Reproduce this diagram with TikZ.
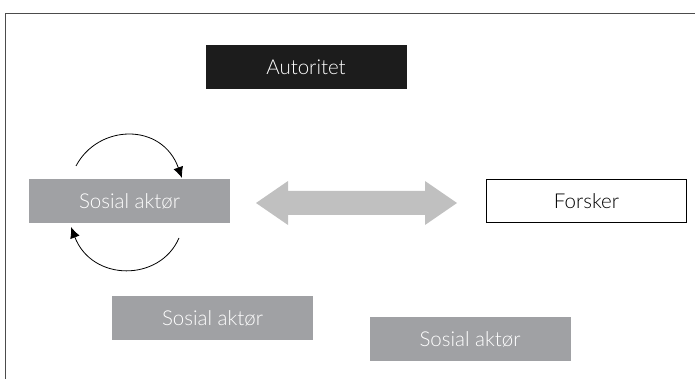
\documentclass[tikz,border=0pt]{standalone}
\usepackage{fontspec}
\setmainfont{Lato Light}
\usetikzlibrary{arrows.meta}
\definecolor{boxgray}{HTML}{A0A1A4}
\definecolor{arrgray}{HTML}{C0C0C0}
\definecolor{darkbox}{HTML}{1C1C1C}
\begin{document}
\begin{tikzpicture}[x=1pt,y=-1pt,
  every node/.style={inner sep=0pt, outer sep=0pt, font=\fontsize{20.5}{24}\selectfont},
  actor/.style={fill=boxgray, text=white, minimum width=201pt, minimum height=44pt},
  authority/.style={fill=darkbox, text=white, minimum width=201pt, minimum height=44pt},
  researcher/.style={draw=black, line width=0.8pt, fill=white, minimum width=200pt, minimum height=43pt},
  loop/.style={line width=0.8pt, -{Latex[length=11pt,width=10pt]}}
]
\useasboundingbox (0,0) rectangle (695,379);
\draw[line width=0.8pt, draw=black!70] (5,379) -- (5,13) -- (695,13);
\node[authority] (aut) at (306,67) {Autoritet};
\node[actor] (a1) at (129.5,201) {Sosial aktør};
\node[researcher] (fo) at (586.5,201) {Forsker};
\node[actor] (a2) at (212.5,318) {Sosial aktør};
\node[actor] (a3) at (470,339) {Sosial aktør};
% double arrow between a1 and fo
\fill[arrgray] (256,203) -- (288,181) -- (288,191) -- (425,191) -- (425,181) -- (457,203)
  -- (425,225) -- (425,215) -- (288,215) -- (288,225) -- cycle;
% self loops
\coordinate (t1) at (76,166);
\coordinate (t2) at (182,178);
\coordinate (b1) at (179,238);
\coordinate (b2) at (71,227);
\draw[loop] (t1) .. controls (98,124) and (162,122) .. (t2);
\draw[loop] (b1) .. controls (160,282) and (92,282) .. (b2);
\end{tikzpicture}
\end{document}
